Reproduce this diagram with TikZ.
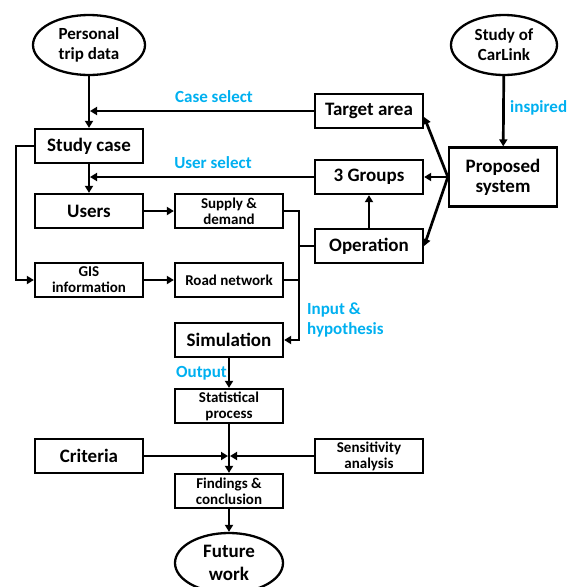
\documentclass[tikz,border=0pt]{standalone}
\usepackage{fontspec}
\setmainfont{Carlito}
\usetikzlibrary{arrows.meta,shapes.geometric}
\definecolor{lblue}{RGB}{0,176,240}
\begin{document}
\begin{tikzpicture}[x=1pt,y=-1pt,
  box/.style={draw,line width=2.3pt,inner sep=0pt,minimum width=108pt,minimum height=34pt,align=center,font=\bfseries\fontsize{19}{20}\selectfont},
  sbox/.style={box,font=\bfseries\fontsize{15}{16}\selectfont},
  oval/.style={draw,ellipse,line width=2.3pt,inner sep=0pt,minimum width=112pt,minimum height=60pt,align=center,font=\bfseries\fontsize{17}{20}\selectfont},
  conn/.style={line width=2.7pt},
  arr/.style={conn,-{Triangle[length=7pt,width=8pt]}},
  lbl/.style={text=lblue,font=\bfseries\fontsize{17}{20}\selectfont,align=left,inner sep=0pt}]
\useasboundingbox (0,0) rectangle (566,587);
\node[oval] (ptd) at (89,45) {Personal\\trip data};
\node[oval,minimum width=106pt] (carlink) at (504,45) {Study of\\CarLink};
\node[box] (study) at (89,146) {Study case};
\node[box] (users) at (89,211) {Users};
\node[sbox] (gis) at (89,280) {GIS\\information};
\node[sbox] (supply) at (229,211) {Supply \&\\demand};
\node[sbox] (road) at (229,280) {Road network};
\node[box] (sim) at (229,340) {Simulation};
\node[sbox] (stat) at (229,406) {Statistical\\process};
\node[box] (crit) at (89,456) {Criteria};
\node[sbox] (sens) at (369,456) {Sensitivity\\analysis};
\node[sbox] (find) at (229,491) {Findings \&\\conclusion};
\node[oval,minimum width=108pt,font=\bfseries\fontsize{19}{23}\selectfont] (future) at (229,563) {Future\\work};
\node[box] (target) at (369,111) {Target area};
\node[box] (groups) at (369,177) {3 Groups};
\node[box] (oper) at (369,246) {Operation};
\node[box,minimum height=59pt,text width=100pt] (prop) at (503,177) {Proposed\\system};

\coordinate (j1) at (89,111);
\coordinate (j2) at (89,177);
\coordinate (j3) at (229,456);
\coordinate (bus) at (299,212);
\coordinate (l1) at (16,146);
\coordinate (ps) at (prop.west);

\draw[arr] (ptd) -- (study);
\draw[arr] (target.west) -- ([xshift=1pt]j1);
\draw[arr] (study) -- (users);
\draw[arr] (groups.west) -- ([xshift=1pt]j2);
\draw[arr] (study.west) -- (l1) |- (gis.west);
\draw[arr] (users) -- (supply);
\draw[arr] (gis) -- (road);
\draw[conn] (supply.east) -| (bus);
\draw[arr] (bus) |- (sim.east);
\draw[conn] (road.east) -- (299,280);
\draw[conn] (oper.west) -- (299,246);
\draw[arr] (oper) -- (groups);
\draw[arr] (ps) -- ([yshift=-6pt]target.east);
\draw[arr] (ps) -- (groups.east);
\draw[arr] (ps) -- (oper.east);
\draw[arr] (carlink) -- (prop);
\draw[arr] (sim) -- (stat);
\draw[arr] (stat) -- (find);
\draw[arr] (crit) -- ([xshift=-1pt]j3);
\draw[arr] (sens) -- ([xshift=1pt]j3);
\draw[arr] (find) -- (future);

\node[lbl] at (214,97) {Case select};
\node[lbl] at (213,163) {User select};
\node[lbl,anchor=west] at (510,108) {inspired};
\node[lbl,anchor=north west] at (307,303) {Input \&\\hypothesis};
\node[lbl,anchor=east] at (227,373) {Output};
\end{tikzpicture}
\end{document}
